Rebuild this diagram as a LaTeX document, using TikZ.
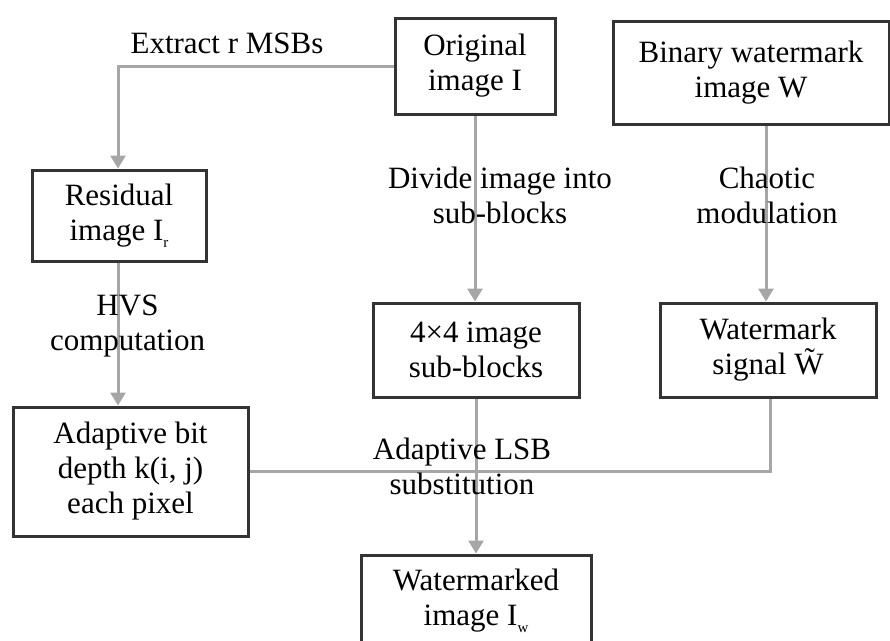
\documentclass[tikz,border=0pt]{standalone}
\usepackage{fontspec}
\setmainfont{Liberation Serif}
\usetikzlibrary{arrows.meta}
\newcommand{\mysub}[1]{\raisebox{-7pt}{\fontsize{15}{15}\selectfont #1}}
\begin{document}
\begin{tikzpicture}[x=1pt,y=-1pt,
  box/.style={draw=black!80, line width=3pt, fill=white, align=center, inner sep=0pt,
    font=\fontsize{31}{35}\selectfont},
  lbl/.style={align=center, inner sep=0pt, font=\fontsize{31}{35}\selectfont},
  conn/.style={draw=black!35, line width=3pt},
  arr/.style={conn, -{Triangle[width=15pt,length=13pt]}}]
\clip (0,0) rectangle (890,640);
\useasboundingbox (0,0) rectangle (890,640);
% boxes
\node[box, minimum width=160pt, minimum height=96pt] (orig) at (475,66) {Original\\image I};
\node[box, minimum width=276pt, minimum height=103pt] (bin) at (751,72.5) {Binary watermark\\image W};
\node[box, minimum width=174pt, minimum height=91pt] (resid) at (119,215.5) {Residual\\image I\mysub{r}};
\node[box, minimum width=235pt, minimum height=129pt] (adapt) at (130.5,471.5) {Adaptive bit\\depth k(i, j)\\each pixel};
\node[box, minimum width=206pt, minimum height=94pt] (sub) at (476,350) {4×4 image\\sub-blocks};
\node[box, minimum width=216pt, minimum height=94pt] (wsig) at (768,350) {Watermark\\signal \~{W}};
\node[box, minimum width=230pt, minimum height=92pt] (wmk) at (476,601) {Watermarked\\image I\mysub{w}};
% connectors
\coordinate (kneeA) at (118,66);
\draw[arr] (orig.west) -- (kneeA) -- (kneeA |- resid.north);
\draw[arr] (orig.south) -- (orig.south |- sub.north);
\coordinate (binout) at (766,0);
\draw[arr] (binout |- bin.south) -- (binout |- wsig.north);
\draw[arr] (kneeA |- resid.south) -- (kneeA |- adapt.north);
\coordinate (wsout) at (770,0);
\draw[conn] (adapt.east) -- (wsout |- adapt.east) -- (wsout |- wsig.south);
\draw[arr] (sub.south) -- (sub.south |- wmk.north);
% labels
\node[lbl] (lextract) at (227,43) {Extract r MSBs};
\node[lbl] (ldivide) at (500,195) {Divide image into\\sub-blocks};
\node[lbl] (lchaos) at (767,195) {Chaotic\\modulation};
\node[lbl] (lhvs) at (127.5,326) {HVS\\computation};
\node[lbl] (llsb) at (462,466) {Adaptive LSB\\substitution};
\end{tikzpicture}
\end{document}
